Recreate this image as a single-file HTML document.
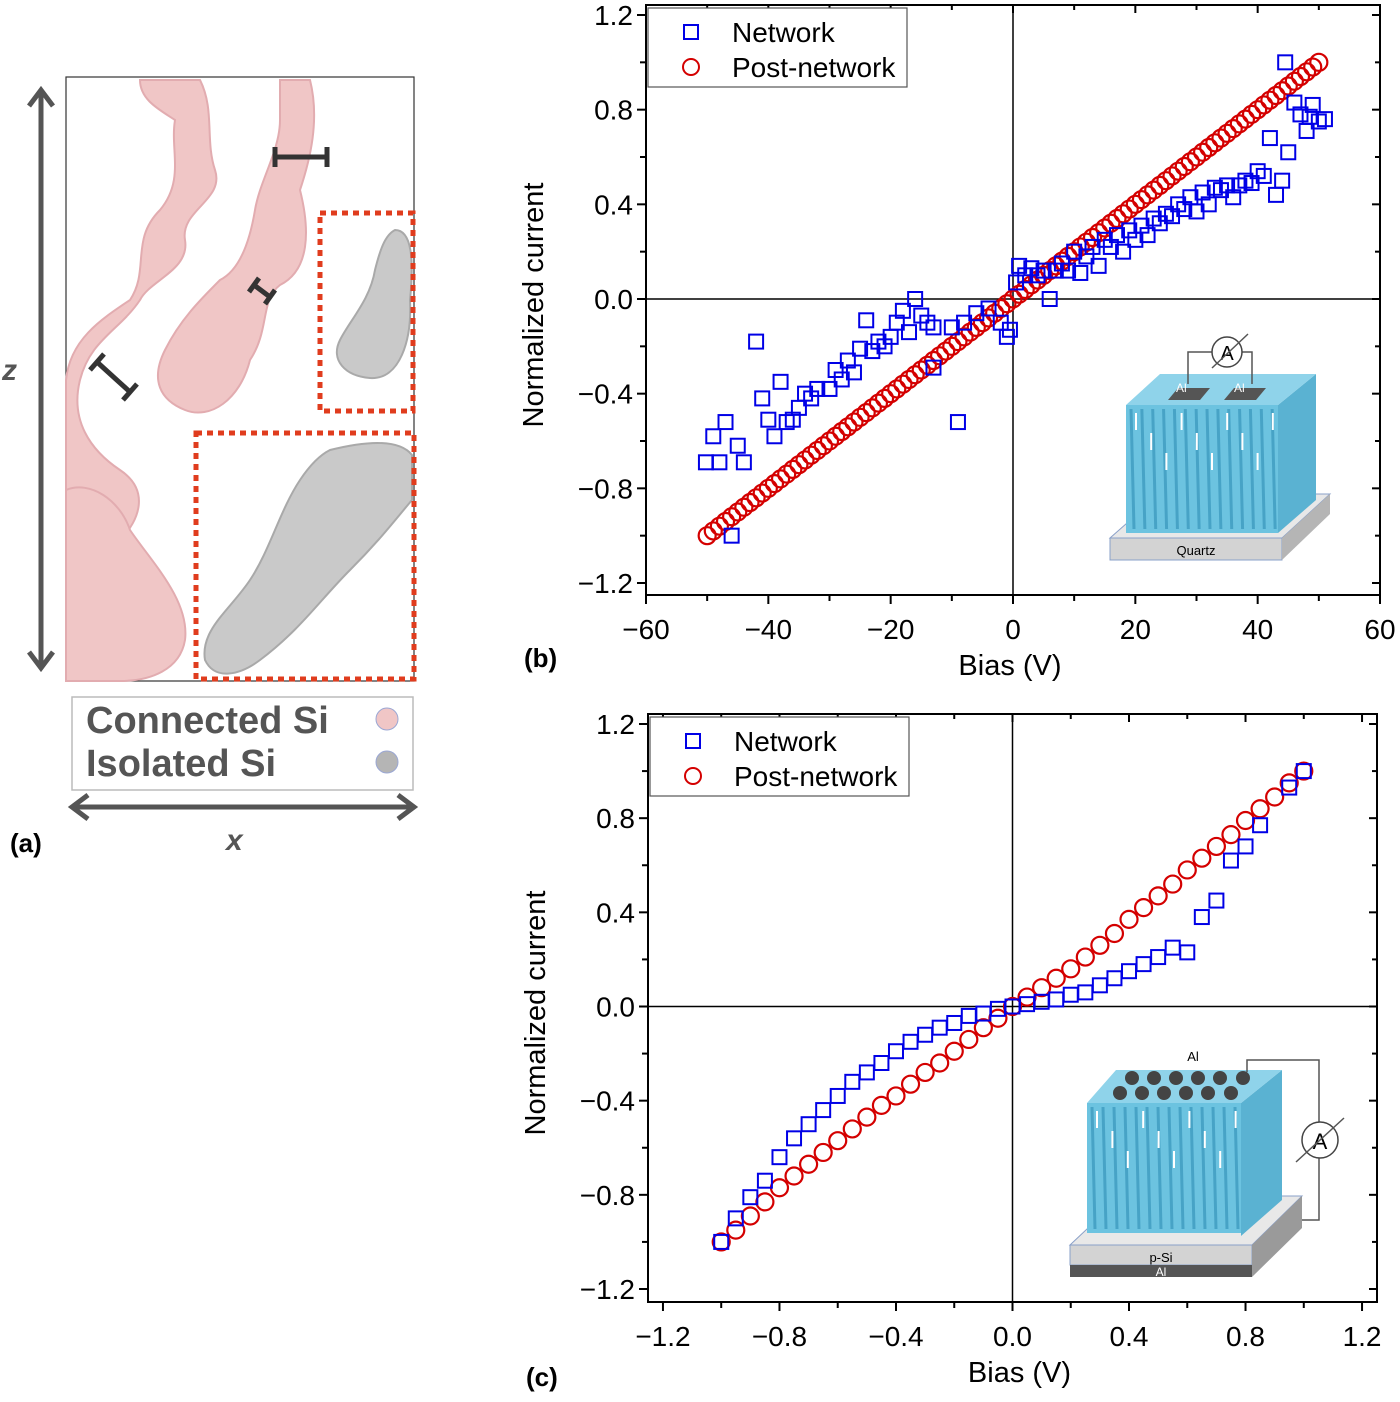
<!DOCTYPE html>
<html><head><meta charset="utf-8">
<style>
html,body{margin:0;padding:0;background:#fff;}
svg{display:block;font-family:"Liberation Sans",Arial,sans-serif;}
</style></head>
<body>
<svg id="root" width="1400" height="1402" viewBox="0 0 1400 1402" xmlns="http://www.w3.org/2000/svg">
  <g>
    <rect x="66" y="77" width="348" height="604" fill="#fff" stroke="#333" stroke-width="1.2"/>
    <g fill="#f0c6c6" stroke="#e2acb0" stroke-width="2">
      <path d="M140,80 L200,80 C215,110 205,140 215,170 C225,200 180,210 185,240 C190,270 150,280 140,300 C120,330 90,340 80,380 C70,420 90,450 120,470 C150,490 140,520 120,540 C100,560 70,560 66,580 L66,380 C70,340 100,320 130,300 C150,270 130,240 160,210 C185,180 170,150 175,120 C160,110 140,100 140,80 Z"/>
      <path d="M280,80 L310,80 C320,120 310,160 300,190 C310,230 310,270 280,285 C260,300 270,330 250,360 C240,400 210,420 185,410 C160,400 150,380 165,350 C180,320 200,300 220,280 C240,270 250,240 255,210 C260,180 280,150 280,120 Z"/>
      <path d="M66,490 C90,480 120,500 130,530 C150,560 190,600 185,640 C180,670 150,681 120,681 L66,681 Z"/>
    </g>
    <g fill="#c9c9c9" stroke="#a9a9a9" stroke-width="2">
      <path d="M395,230 C412,230 414,260 410,300 C412,340 400,380 370,378 C345,376 330,360 340,340 C350,320 370,300 375,270 C380,250 385,235 395,230 Z"/>
      <path d="M330,450 C370,440 400,440 412,455 L412,500 C395,520 380,540 350,570 C320,600 300,630 260,660 C240,675 215,681 205,660 C200,630 230,610 250,580 C270,550 280,510 300,480 C310,465 320,455 330,450 Z"/>
    </g>
    <g stroke="#333" stroke-width="5">
      <line x1="275" y1="157" x2="327" y2="157"/><line x1="275" y1="147" x2="275" y2="167"/><line x1="327" y1="147" x2="327" y2="167"/>
      <line x1="254" y1="285" x2="270" y2="297"/><line x1="249" y1="292" x2="259" y2="278"/><line x1="265" y1="304" x2="275" y2="290"/>
      <line x1="97" y1="362" x2="130" y2="392"/><line x1="90" y1="370" x2="104" y2="354"/><line x1="123" y1="400" x2="137" y2="384"/>
    </g>
    <rect x="320" y="213" width="93" height="198" fill="none" stroke="#e03c1e" stroke-width="5" stroke-dasharray="6,5"/>
    <rect x="196" y="433" width="218" height="246" fill="none" stroke="#e03c1e" stroke-width="5" stroke-dasharray="6,5"/>
    <g stroke="#555" stroke-width="5" fill="none">
      <line x1="41" y1="92" x2="41" y2="666"/>
      <polyline points="29,106 41,90 53,106"/><polyline points="29,652 41,668 53,652"/>
    </g>
    <text x="2" y="380" font-size="30" font-style="italic" font-weight="bold" fill="#555">z</text>
    <rect x="72" y="697" width="341" height="93" fill="#fff" stroke="#bbb" stroke-width="1.5"/>
    <text x="86" y="733" font-size="38" font-weight="bold" fill="#555">Connected Si</text>
    <text x="86" y="776" font-size="38" font-weight="bold" fill="#555">Isolated Si</text>
    <circle cx="387" cy="719" r="11" fill="#f0c6c6" stroke="#9aa7d4" stroke-width="1"/>
    <circle cx="387" cy="762" r="11" fill="#b5b5b5" stroke="#9aa7d4" stroke-width="1"/>
    <g stroke="#555" stroke-width="5" fill="none">
      <line x1="74" y1="807" x2="412" y2="807"/>
      <polyline points="88,795 72,807 88,819"/><polyline points="398,795 414,807 398,819"/>
    </g>
    <text x="226" y="850" font-size="30" font-style="italic" font-weight="bold" fill="#555">x</text>
    <text x="10" y="852" font-size="26" font-weight="bold" fill="#000">(a)</text>
  </g>
  <g id="chartB"></g>
  <g id="chartC"></g>
</svg>
<script>
// ---------- Chart (b) data ----------
const bXTicks = [-60,-40,-20,0,20,40,60];
const bXTickLabels = ["\u221260","\u221240","\u221220","0","20","40","60"];
const bYTicks = [-1.2,-0.8,-0.4,0,0.4,0.8,1.2];
const bYTickLabels = ["\u22121.2","\u22120.8","\u22120.4","0.0","0.4","0.8","1.2"];
const bNetX = [-50.2,-48,-49,-47,-45,-44,-46,-42,-41,-40,-39,-38,-36,-35,-37,-34,-33,-32,-30,-29,-28,-27,-26,-25,-24,-23,-22,-21,-20,-19,-18,-17,-16,-15,-14,-13,-13,-9,-10,-8,-6,-4,-2,-1,-0.5,0.5,1,2,3,4,5,6,7,8,9,10,11,12,13,14,15,16,17,18,19,20,21,22,23,24,25,26,27,28,29,30,31,32,33,34,35,36,37,38,39,40,41,42,43,44,45,46,47,48,49,50,44.5,48.5,51];
const bNetY = [-0.69,-0.69,-0.58,-0.52,-0.62,-0.69,-1.0,-0.18,-0.42,-0.51,-0.58,-0.35,-0.51,-0.46,-0.52,-0.40,-0.42,-0.38,-0.38,-0.30,-0.34,-0.26,-0.31,-0.21,-0.09,-0.22,-0.18,-0.20,-0.16,-0.10,-0.05,-0.14,0.00,-0.07,-0.10,-0.12,-0.29,-0.52,-0.12,-0.10,-0.06,-0.04,-0.10,-0.16,-0.13,0.07,0.14,0.10,0.13,0.10,0.12,0.00,0.12,0.15,0.12,0.20,0.11,0.18,0.22,0.14,0.25,0.22,0.27,0.20,0.29,0.25,0.31,0.27,0.34,0.32,0.36,0.35,0.40,0.38,0.43,0.37,0.45,0.40,0.47,0.46,0.48,0.43,0.48,0.50,0.49,0.54,0.52,0.68,0.44,0.50,0.62,0.83,0.78,0.71,0.82,0.75,1.00,0.77,0.76];
const bPostX = [-50,-49,-48,-47,-46,-45,-44,-43,-42,-41,-40,-39,-38,-37,-36,-35,-34,-33,-32,-31,-30,-29,-28,-27,-26,-25,-24,-23,-22,-21,-20,-19,-18,-17,-16,-15,-14,-13,-12,-11,-10,-9,-8,-7,-6,-5,-4,-3,-2,-1,0,1,2,3,4,5,6,7,8,9,10,11,12,13,14,15,16,17,18,19,20,21,22,23,24,25,26,27,28,29,30,31,32,33,34,35,36,37,38,39,40,41,42,43,44,45,46,47,48,49,50];
const bPostY = [-1.00,-0.98,-0.96,-0.94,-0.92,-0.90,-0.88,-0.86,-0.84,-0.82,-0.80,-0.78,-0.76,-0.74,-0.72,-0.70,-0.68,-0.66,-0.64,-0.62,-0.60,-0.58,-0.56,-0.54,-0.52,-0.50,-0.48,-0.46,-0.44,-0.42,-0.40,-0.38,-0.36,-0.34,-0.32,-0.30,-0.28,-0.26,-0.24,-0.22,-0.20,-0.18,-0.16,-0.14,-0.12,-0.10,-0.08,-0.06,-0.04,-0.02,0.00,0.02,0.04,0.06,0.08,0.10,0.12,0.14,0.16,0.18,0.20,0.22,0.24,0.26,0.28,0.30,0.32,0.34,0.36,0.38,0.40,0.42,0.44,0.46,0.48,0.50,0.52,0.54,0.56,0.58,0.60,0.62,0.64,0.66,0.68,0.70,0.72,0.74,0.76,0.78,0.80,0.82,0.84,0.86,0.88,0.90,0.92,0.94,0.96,0.98,1.00];
// ---------- Chart (c) data ----------
const cXTicks = [-1.2,-0.8,-0.4,0,0.4,0.8,1.2];
const cXTickLabels = ["\u22121.2","\u22120.8","\u22120.4","0.0","0.4","0.8","1.2"];
const cYTicks = [-1.2,-0.8,-0.4,0,0.4,0.8,1.2];
const cYTickLabels = ["\u22121.2","\u22120.8","\u22120.4","0.0","0.4","0.8","1.2"];
const cNetX = [-1.0,-0.95,-0.9,-0.85,-0.8,-0.75,-0.7,-0.65,-0.6,-0.55,-0.5,-0.45,-0.4,-0.35,-0.3,-0.25,-0.2,-0.15,-0.1,-0.05,0,0.05,0.1,0.15,0.2,0.25,0.3,0.35,0.4,0.45,0.5,0.55,0.6,0.65,0.7,0.75,0.8,0.85,0.95,1.0];
const cNetY = [-1.0,-0.90,-0.81,-0.74,-0.64,-0.56,-0.50,-0.44,-0.38,-0.32,-0.28,-0.24,-0.19,-0.15,-0.12,-0.09,-0.07,-0.04,-0.03,-0.01,0.00,0.01,0.02,0.03,0.05,0.06,0.09,0.12,0.15,0.18,0.21,0.25,0.23,0.38,0.45,0.62,0.68,0.77,0.93,1.00];
const cPostX = [-1.0,-0.95,-0.9,-0.85,-0.8,-0.75,-0.7,-0.65,-0.6,-0.55,-0.5,-0.45,-0.4,-0.35,-0.3,-0.25,-0.2,-0.15,-0.1,-0.05,0,0.05,0.1,0.15,0.2,0.25,0.3,0.35,0.4,0.45,0.5,0.55,0.6,0.65,0.7,0.75,0.8,0.85,0.9,0.95,1.0];
const cPostY = [-1.00,-0.95,-0.89,-0.83,-0.77,-0.72,-0.67,-0.62,-0.57,-0.52,-0.47,-0.42,-0.38,-0.33,-0.28,-0.24,-0.19,-0.14,-0.09,-0.05,0.00,0.04,0.08,0.12,0.16,0.21,0.26,0.31,0.37,0.42,0.47,0.52,0.58,0.63,0.68,0.73,0.79,0.84,0.89,0.95,1.00];

const NS = "http://www.w3.org/2000/svg";
function mk(parent, tag, attrs, text) {
  const e = document.createElementNS(NS, tag);
  for (const k in attrs) e.setAttribute(k, attrs[k]);
  if (text !== undefined) e.textContent = text;
  parent.appendChild(e);
  return e;
}

function drawChart(g, cfg) {
  const sx = v => cfg.x0 + (v - cfg.xmin) / (cfg.xmax - cfg.xmin) * (cfg.x1 - cfg.x0);
  const sy = v => cfg.y1 - (v - cfg.ymin) / (cfg.ymax - cfg.ymin) * (cfg.y1 - cfg.y0);
  let e = mk(g, "line", {x1: cfg.x0, x2: cfg.x1, y1: sy(0), y2: sy(0), stroke: "#000", "stroke-width": 1.5});
  
  
  e = mk(g, "line", {x1: sx(0), x2: sx(0), y1: cfg.y0, y2: cfg.y1, stroke: "#000", "stroke-width": 1.5});
  
  
  const post = mk(g, "g", {fill: "none", stroke: "#d40000", "stroke-width": 2.2});
  
  
  cfg.postX.forEach((xv, i) => {
    const c = mk(post, "circle", {cx: sx(xv), cy: sy(cfg.postY[i]), r: cfg.r});
    
    
  });
  const net = mk(g, "g", {fill: "none", stroke: "#0000e6", "stroke-width": 2});
  
  
  cfg.netX.forEach((xv, i) => {
    const r = mk(net, "rect", {x: sx(xv) - 7, y: sy(cfg.netY[i]) - 7, width: 14, height: 14});
    
    
  });
  e = mk(g, "rect", {x: cfg.x0, y: cfg.y0, width: cfg.x1 - cfg.x0, height: cfg.y1 - cfg.y0, fill: "none", stroke: "#000", "stroke-width": 2});
  
  
  const xt = mk(g, "g", {});
  
  
  const xmid = [];
  for (let i = 0; i < cfg.xTicks.length - 1; i++) xmid.push((cfg.xTicks[i] + cfg.xTicks[i + 1]) / 2);
  cfg.xTicks.forEach((v, i) => {
    mk(xt, "line", {x1: sx(v), x2: sx(v), y1: cfg.y1, y2: cfg.y1 + 9, stroke: "#000", "stroke-width": 2});
    mk(xt, "line", {x1: sx(v), x2: sx(v), y1: cfg.y0, y2: cfg.y0 + 8, stroke: "#000", "stroke-width": 2});
    const t = mk(xt, "text", {x: sx(v), y: cfg.y1 + 44, "font-size": 28, "text-anchor": "middle"}, cfg.xLabels[i]);
    
    
  });
  xmid.forEach(v => {
    mk(xt, "line", {x1: sx(v), x2: sx(v), y1: cfg.y1, y2: cfg.y1 + 6, stroke: "#000", "stroke-width": 2});
    mk(xt, "line", {x1: sx(v), x2: sx(v), y1: cfg.y0, y2: cfg.y0 + 5, stroke: "#000", "stroke-width": 2});
  });
  const yt = mk(g, "g", {});
  
  
  const ymid = [];
  for (let i = 0; i < cfg.yTicks.length - 1; i++) ymid.push((cfg.yTicks[i] + cfg.yTicks[i + 1]) / 2);
  cfg.yTicks.forEach((v, i) => {
    mk(yt, "line", {x1: cfg.x0 - 9, x2: cfg.x0, y1: sy(v), y2: sy(v), stroke: "#000", "stroke-width": 2});
    mk(yt, "line", {x1: cfg.x1 - 8, x2: cfg.x1, y1: sy(v), y2: sy(v), stroke: "#000", "stroke-width": 2});
    const t = mk(yt, "text", {x: cfg.x0 - 13, y: sy(v) + 10, "font-size": 28, "text-anchor": "end"}, cfg.yLabels[i]);
    
    
  });
  ymid.forEach(v => {
    mk(yt, "line", {x1: cfg.x0 - 6, x2: cfg.x0, y1: sy(v), y2: sy(v), stroke: "#000", "stroke-width": 2});
    mk(yt, "line", {x1: cfg.x1 - 5, x2: cfg.x1, y1: sy(v), y2: sy(v), stroke: "#000", "stroke-width": 2});
  });
  let t = mk(g, "text", {x: (cfg.x0 + cfg.x1) / 2 + cfg.xtOff, y: cfg.y1 + 80, "font-size": 29, "text-anchor": "middle"}, "Bias (V)");
  
  
  const ycx = cfg.x0 - 103, ycy = (cfg.y0 + cfg.y1) / 2 + 5;
  t = mk(g, "text", {x: ycx, y: ycy, "font-size": 29, "text-anchor": "middle", transform: `rotate(-90 ${ycx} ${ycy})`}, "Normalized current");
  
  
  t = mk(g, "text", {x: cfg.x0 - 122, y: cfg.y1 + cfg.plOff, "font-size": 26, "font-weight": "bold"}, cfg.panel);
  
  
  const lg = mk(g, "g", {});
  
  
  const lx = cfg.x0 + 2, ly = cfg.y0 + 3;
  mk(lg, "rect", {x: lx, y: ly, width: 259, height: 79, fill: "#fff", stroke: "#555", "stroke-width": 1.2});
  const le1 = mk(lg, "g", {});
  
  
  mk(le1, "rect", {x: lx + 36, y: ly + 17, width: 14, height: 14, fill: "none", stroke: "#0000e6", "stroke-width": 2});
  mk(le1, "text", {x: lx + 84, y: ly + 34, "font-size": 28}, "Network");
  const le2 = mk(lg, "g", {});
  
  
  mk(le2, "circle", {cx: lx + 43, cy: ly + 59, r: 8, fill: "none", stroke: "#d40000", "stroke-width": 2});
  mk(le2, "text", {x: lx + 84, y: ly + 69, "font-size": 28}, "Post-network");
}

function drawBlueBlock(g, x, y, w, h) {
  mk(g, "rect", {x: x, y: y, width: w, height: h, fill: "#6cc3e0"});
  for (let i = 0; i < 14; i++) {
    mk(g, "line", {x1: x + 5 + i * w / 14, y1: y + 4, x2: x + 8 + i * w / 14, y2: y + h - 4, stroke: "#2f8fb5", "stroke-width": 3, opacity: 0.6});
  }
  for (let i = 0; i < 10; i++) {
    mk(g, "line", {x1: x + 10 + i * w / 10, y1: y + 8 + (i % 3) * 20, x2: x + 10 + i * w / 10, y2: y + 25 + (i % 3) * 20, stroke: "#fff", "stroke-width": 2});
  }
}

function drawInsetB(g) {
  const ins = mk(g, "g", {});
  
  
  mk(ins, "polygon", {points: "1110,538 1282,538 1330,494 1160,494", fill: "#e8e8e8", stroke: "#8aa0c8"});
  mk(ins, "rect", {x: 1110, y: 538, width: 172, height: 22, fill: "#d3d3d3", stroke: "#8aa0c8"});
  mk(ins, "polygon", {points: "1282,538 1330,494 1330,514 1282,560", fill: "#b5b5b5"});
  drawBlueBlock(ins, 1126, 405, 152, 128);
  mk(ins, "polygon", {points: "1278,405 1316,374 1316,500 1278,533", fill: "#5ab2d2"});
  mk(ins, "polygon", {points: "1126,405 1278,405 1316,374 1160,374", fill: "#8fd3ea"});
  mk(ins, "polygon", {points: "1168,400 1200,400 1210,388 1178,388", fill: "#555"});
  mk(ins, "polygon", {points: "1224,400 1256,400 1266,388 1234,388", fill: "#555"});
  mk(ins, "text", {x: 1176, y: 392, "font-size": 12, fill: "#fff"}, "Al");
  mk(ins, "text", {x: 1234, y: 392, "font-size": 12, fill: "#fff"}, "Al");
  mk(ins, "polyline", {points: "1188,384 1188,352 1212,352", fill: "none", stroke: "#555", "stroke-width": 1.5});
  mk(ins, "polyline", {points: "1242,352 1252,352 1252,384", fill: "none", stroke: "#555", "stroke-width": 1.5});
  mk(ins, "circle", {cx: 1227, cy: 352, r: 15, fill: "#fff", stroke: "#444", "stroke-width": 1.5});
  mk(ins, "text", {x: 1227, y: 360, "font-size": 20, "text-anchor": "middle"}, "A");
  mk(ins, "line", {x1: 1212, y1: 368, x2: 1248, y2: 334, stroke: "#555", "stroke-width": 1.5});
  mk(ins, "text", {x: 1196, y: 555, "font-size": 13, "text-anchor": "middle"}, "Quartz");
}

function drawInsetC(g) {
  const ins = mk(g, "g", {});
  
  
  mk(ins, "polygon", {points: "1070,1245 1252,1245 1302,1196 1122,1196", fill: "#e8e8e8", stroke: "#8aa0c8"});
  mk(ins, "rect", {x: 1070, y: 1245, width: 182, height: 20, fill: "#d3d3d3", stroke: "#8aa0c8"});
  mk(ins, "rect", {x: 1070, y: 1265, width: 182, height: 12, fill: "#555"});
  mk(ins, "polygon", {points: "1252,1245 1302,1196 1302,1228 1252,1277", fill: "#9a9a9a"});
  drawBlueBlock(ins, 1087, 1103, 154, 130);
  mk(ins, "polygon", {points: "1241,1103 1282,1070 1282,1200 1241,1236", fill: "#5ab2d2"});
  mk(ins, "polygon", {points: "1087,1103 1241,1103 1282,1070 1116,1070", fill: "#8fd3ea"});
  const bx = [1132, 1154, 1176, 1198, 1220, 1243];
  bx.forEach(x => mk(ins, "circle", {cx: x, cy: 1078, r: 7, fill: "#444"}));
  bx.forEach(x => mk(ins, "circle", {cx: x - 12, cy: 1093, r: 7, fill: "#444"}));
  mk(ins, "text", {x: 1193, y: 1061, "font-size": 13, "text-anchor": "middle"}, "Al");
  mk(ins, "polyline", {points: "1247,1072 1247,1060 1319,1060 1319,1220 1302,1220", fill: "none", stroke: "#555", "stroke-width": 1.5});
  mk(ins, "circle", {cx: 1320, cy: 1140, r: 18, fill: "#fff", stroke: "#444", "stroke-width": 1.5});
  mk(ins, "text", {x: 1320, y: 1149, "font-size": 22, "text-anchor": "middle"}, "A");
  mk(ins, "line", {x1: 1296, y1: 1162, x2: 1344, y2: 1118, stroke: "#555", "stroke-width": 1.5});
  mk(ins, "text", {x: 1161, y: 1262, "font-size": 13, "text-anchor": "middle"}, "p-Si");
  mk(ins, "text", {x: 1161, y: 1276, "font-size": 12, "text-anchor": "middle", fill: "#fff"}, "Al");
}

const gB = document.getElementById("chartB");
drawChart(gB, {x0: 646, x1: 1380, y0: 5, y1: 595, xmin: -60, xmax: 60, ymin: -1.2 - 12/236.7, ymax: 1.2 + 10/236.7,
  xTicks: bXTicks, xLabels: bXTickLabels, yTicks: bYTicks, yLabels: bYTickLabels,
  netX: bNetX, netY: bNetY, postX: bPostX, postY: bPostY, panel: "(b)", r: 8.5, xtOff: -3, plOff: 72});
drawInsetB(gB);
const gC = document.getElementById("chartC");
drawChart(gC, {x0: 648, x1: 1377, y0: 714, y1: 1302, xmin: -1.2 - 15/292, xmax: 1.2 + 15/292, ymin: -1.2 - 13/235.4, ymax: 1.2 + 10/235.4,
  xTicks: cXTicks, xLabels: cXTickLabels, yTicks: cYTicks, yLabels: cYTickLabels,
  netX: cNetX, netY: cNetY, postX: cPostX, postY: cPostY, panel: "(c)", r: 8.5, xtOff: 7, plOff: 84});
drawInsetC(gC);
</script>
</body></html>
